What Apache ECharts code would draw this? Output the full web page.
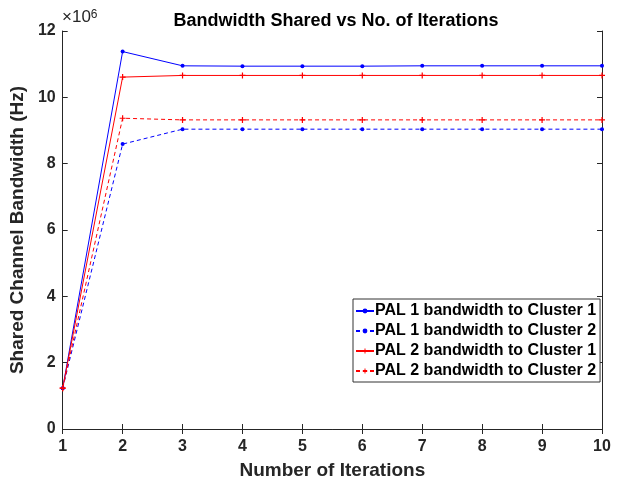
<!DOCTYPE html>
<html>
<head>
<meta charset="utf-8">
<script src="https://cdn.jsdelivr.net/npm/echarts@6/dist/echarts.min.js"></script>
<style>
  html, body { margin: 0; padding: 0; background: #fff; }
  #chart { width: 624px; height: 486px; }
</style>
</head>
<body>
<div id="chart"></div>
<script>
  // iterations 1..10, values in Hz
  var iterations = [1, 2, 3, 4, 5, 6, 7, 8, 9, 10];
  var pal1Cluster1 = [1.23e6, 11.38e6, 10.95e6, 10.94e6, 10.94e6, 10.94e6, 10.95e6, 10.95e6, 10.95e6, 10.95e6];
  var pal1Cluster2 = [1.23e6, 8.59e6, 9.04e6, 9.04e6, 9.04e6, 9.04e6, 9.04e6, 9.04e6, 9.04e6, 9.04e6];
  var pal2Cluster1 = [1.23e6, 10.61e6, 10.66e6, 10.66e6, 10.66e6, 10.66e6, 10.66e6, 10.66e6, 10.66e6, 10.66e6];
  var pal2Cluster2 = [1.23e6, 9.37e6, 9.32e6, 9.32e6, 9.32e6, 9.32e6, 9.32e6, 9.32e6, 9.32e6, 9.32e6];
  var seriesNames = ['PAL 1 bandwidth to Cluster 1', 'PAL 1 bandwidth to Cluster 2',
                     'PAL 2 bandwidth to Cluster 1', 'PAL 2 bandwidth to Cluster 2'];

  var font = 'Liberation Sans, Arial, sans-serif';
  var plus = 'path://M4,0L6,0L6,4L10,4L10,6L6,6L6,10L4,10L4,6L0,6L0,4L4,4Z';

  function pairs(ys) {
    return ys.map(function (y, i) { return [iterations[i], y]; });
  }

  function makeSeries(name, ys, color, dashed, symbol, size) {
    return {
      name: name,
      type: 'line',
      data: pairs(ys),
      symbol: symbol,
      symbolSize: size,
      itemStyle: { color: color },
      lineStyle: { color: color, width: 1, type: dashed ? [4, 3] : 'solid' },
      animation: false
    };
  }

  var chart = echarts.init(document.getElementById('chart'));
  var axisLine = { show: true, lineStyle: { color: '#262626', width: 1 } };
  var tickIn = { show: true, inside: true, length: 5, lineStyle: { color: '#262626' } };

  chart.setOption({
    backgroundColor: '#fff',
    title: {
      text: 'Bandwidth Shared vs No. of Iterations',
      left: 331, top: 7, textAlign: 'center',
      textStyle: { fontFamily: font, fontSize: 18, fontWeight: 'bold', color: '#000' }
    },
    grid: { left: 60, right: 22, top: 31, bottom: 57, show: false },
    legend: {
      orient: 'vertical',
      left: 353, top: 299,
      data: seriesNames,
      itemWidth: 18, itemHeight: 6, itemGap: 4,
      padding: [4, 4, 3, 2],
      borderColor: '#333', borderWidth: 1,
      backgroundColor: '#fff',
      textStyle: { fontFamily: font, fontSize: 16, lineHeight: 16, fontWeight: 'bold', color: '#000', padding: [0, 0, 0, -4] }
    },
    xAxis: [{
      type: 'value', min: 1, max: 10, interval: 1,
      name: 'Number of Iterations', nameLocation: 'middle', nameGap: 32,
      nameTextStyle: { fontFamily: font, fontSize: 19, fontWeight: 'bold', color: '#262626' },
      axisLine: axisLine, axisTick: tickIn, splitLine: { show: false },
      axisLabel: { fontFamily: font, fontSize: 16, fontWeight: 'bold', color: '#262626', margin: 10 }
    }, {
      type: 'value', min: 1, max: 10, interval: 1, position: 'top',
      axisLine: axisLine, axisTick: tickIn, splitLine: { show: false }, axisLabel: { show: false }
    }],
    yAxis: [{
      type: 'value', min: 0, max: 12e6, interval: 2e6,
      name: 'Shared Channel Bandwidth (Hz)', nameLocation: 'middle', nameGap: 29,
      nameTextStyle: { fontFamily: font, fontSize: 19, fontWeight: 'bold', color: '#262626' },
      axisLine: axisLine, axisTick: tickIn, splitLine: { show: false },
      axisLabel: {
        fontFamily: font, fontSize: 16, fontWeight: 'bold', color: '#262626', margin: 7,
        formatter: function (v) { return String(v / 1e6); }
      }
    }, {
      type: 'value', min: 0, max: 12e6, interval: 2e6, position: 'right',
      axisLine: axisLine, axisTick: tickIn, splitLine: { show: false }, axisLabel: { show: false }
    }],
    graphic: [{
      type: 'text', left: 62, top: 9,
      style: {
        text: '×10{s|6}',
        rich: { s: { fontSize: 12, verticalAlign: 'top', lineHeight: 12, fontFamily: font, fill: '#262626' } },
        fontFamily: font, fontSize: 17, fill: '#262626'
      }
    }],
    series: [
      makeSeries(seriesNames[0], pal1Cluster1, '#0000ff', false, 'circle', 4),
      makeSeries(seriesNames[1], pal1Cluster2, '#0000ff', true, 'circle', 4),
      makeSeries(seriesNames[2], pal2Cluster1, '#ff0000', false, plus, 6),
      makeSeries(seriesNames[3], pal2Cluster2, '#ff0000', true, plus, 6)
    ]
  });
</script>
</body>
</html>
